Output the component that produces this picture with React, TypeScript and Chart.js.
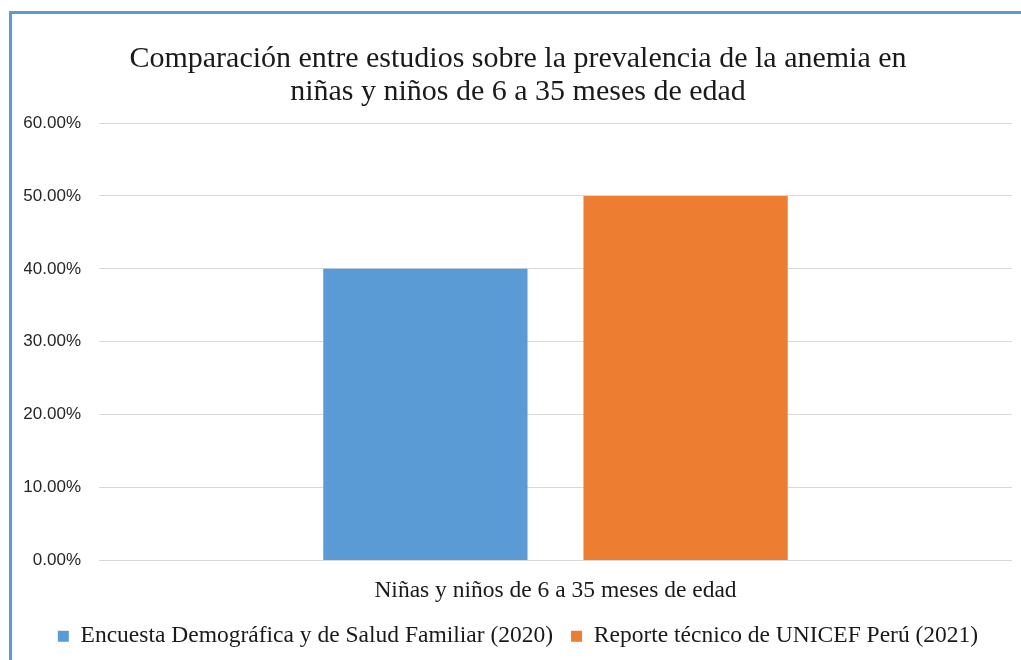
import React, { useEffect, useRef } from "react";
import { Chart, registerables } from "chart.js";

Chart.register(...registerables);

const categories = ["Niñas y niños de 6 a 35 meses de edad"];
const seriesNames = [
  "Encuesta Demográfica y de Salud Familiar (2020)",
  "Reporte técnico de UNICEF Perú (2021)",
];
const encuestaValues = [40.0];
const unicefValues = [50.0];
const titleLines = [
  "Comparación entre estudios sobre la prevalencia de la anemia en",
  "niñas y niños de 6 a 35 meses de edad",
];
const yMax = 60;
const yStep = 10;

const SERIF = "'Liberation Serif', 'Times New Roman', serif";

export default function App() {
  const ref = useRef<HTMLCanvasElement | null>(null);

  useEffect(() => {
    if (!ref.current) return;
    const chart = new Chart(ref.current, {
      type: "bar",
      data: {
        labels: categories,
        datasets: [
          {
            label: seriesNames[0],
            data: encuestaValues,
            backgroundColor: "#5b9bd5",
            categoryPercentage: 0.57,
            barPercentage: 0.785,
          },
          {
            label: seriesNames[1],
            data: unicefValues,
            backgroundColor: "#ed7d31",
            categoryPercentage: 0.57,
            barPercentage: 0.785,
          },
        ],
      },
      options: {
        animation: false,
        responsive: false,
        maintainAspectRatio: false,
        layout: { padding: { left: 24, right: 9, top: 0, bottom: 2 } },
        plugins: {
          title: {
            display: true,
            text: titleLines,
            color: "#1a1a1a",
            font: { family: SERIF, size: 30, weight: "normal", lineHeight: 1.1 },
            padding: { top: 43, bottom: 14 },
          },
          legend: {
            position: "bottom",
            labels: {
              color: "#1a1a1a",
              boxWidth: 11,
              boxHeight: 11,
              padding: 18,
              font: { family: SERIF, size: 23.5 },
            },
          },
          tooltip: { enabled: false },
        },
        scales: {
          x: {
            grid: { display: false },
            border: { display: false },
            ticks: {
              color: "#1a1a1a",
              padding: 8,
              font: { family: SERIF, size: 23.5 },
            },
            afterFit: (s: any) => {
              s.height = 46;
            },
          },
          y: {
            min: 0,
            max: yMax,
            ticks: {
              stepSize: yStep,
              padding: 18,
              color: "#262626",
              font: { family: "'Liberation Sans', Arial, sans-serif", size: 17 },
              callback: (v: any) => Number(v).toFixed(2) + "%",
            },
            grid: { color: "#d9d9d9", drawTicks: false, lineWidth: 1 },
            border: { display: false },
            afterFit: (s: any) => {
              s.width = 75;
            },
          },
        },
      },
    });
    return () => chart.destroy();
  }, []);

  return (
    <div
      style={{
        position: "fixed",
        left: 0,
        top: 0,
        width: 1021,
        height: 660,
        overflow: "hidden",
        background: "#fff",
      }}
    >
      <canvas ref={ref} width={1021} height={660} style={{ display: "block" }} />
      <div
        style={{
          position: "absolute",
          left: 9,
          top: 11,
          width: 1100,
          height: 700,
          borderLeft: "3px solid #5b9bd5",
          borderTop: "3px solid #5b9bd5",
          pointerEvents: "none",
        }}
      />
    </div>
  );
}
